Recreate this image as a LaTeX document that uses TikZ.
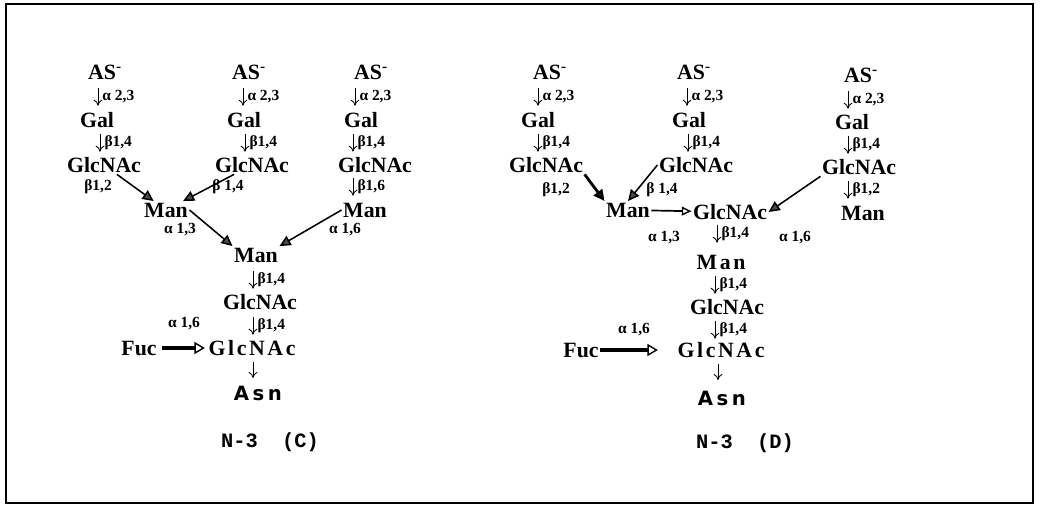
\documentclass[tikz,border=0pt]{standalone}
\usepackage{fontspec}
\setmainfont{Liberation Serif}
\newfontfamily\asnfont{DejaVu Sans}
\newfontfamily\ttlfont{Liberation Mono}
\usepackage{tikz}
\usetikzlibrary{arrows.meta,calc,positioning}
\tikzset{
  res/.style   = {font=\fontsize{15.5}{17}\selectfont\bfseries, inner sep=1pt},
  wres/.style  = {res, font=\fontsize{15.5}{17}\selectfont\bfseries\addfontfeatures{LetterSpace=12}},
  lbl/.style   = {font=\fontsize{11}{12}\selectfont\bfseries, inner sep=1pt},
  lnk/.style   = {lbl, anchor=west, inner xsep=3pt, inner ysep=0pt, minimum height=4.2mm},
  dn/.style    = {-{To[length=1.5mm,width=2.2mm]}, line width=0.6pt},
  bond/.style  = {line width=1.1pt, -{Triangle[length=2.8mm,width=2.6mm,fill=black!70]}},
  obond/.style = {line width=1.2pt, -{Triangle[open,length=2.4mm,width=2.2mm,line width=1pt]}},
  fbond/.style = {line width=2.4pt, -{Triangle[open,length=2.6mm,width=3mm,line width=1pt]}},
  asn/.style   = {font=\fontsize{14}{16}\selectfont\asnfont\bfseries\addfontfeatures{LetterSpace=18}},
  ttl/.style   = {font=\fontsize{14.5}{16}\selectfont\ttlfont\bfseries},
}
\begin{document}
\begin{tikzpicture}[x=0.25mm,y=-0.25mm]
  \useasboundingbox (0,0) rectangle (1040,511);
  \draw[line width=1.4pt] (6,4) rectangle (1033,503);
  % N-3 (C): antennae
  \node[res] (as1) at (105,72) {AS\textsuperscript{-}};
  \node[lnk] (c1a) at (98,97) {α 2,3};
  \node[res] (gal1) at (97,120) {Gal};
  \node[lnk] (c1b) at (100,143) {β1,4};
  \node[res] (glc1) at (104,165) {GlcNAc};
  \node[res] (as2) at (249,72) {AS\textsuperscript{-}};
  \node[lnk] (c2a) at (243,97) {α 2,3};
  \node[res] (gal2) at (244,120) {Gal};
  \node[lnk] (c2b) at (245,143) {β1,4};
  \node[res] (glc2) at (252,165) {GlcNAc};
  \node[res] (as3) at (371,72) {AS\textsuperscript{-}};
  \node[lnk] (c3a) at (355,97) {α 2,3};
  \node[res] (gal3) at (361,120) {Gal};
  \node[lnk] (c3b) at (353,143) {β1,4};
  \node[res] (glc3) at (375,165) {GlcNAc};
  \node[lnk] (c3c) at (353,187) {β1,6};
  \node[res] (man3) at (365,210) {Man};
  \foreach \l in {c1a,c1b,c2a,c2b,c3a,c3b,c3c}
    \draw[dn] (\l.north west) -- (\l.south west);
  \node[lbl] (b12c) at (98,187) {β1,2};
  \node[lbl] (b14c) at (228,187) {β 1,4};
  \node[res] (man1) at (166,210) {Man};
  \node[lbl] (a13c) at (180,230) {α 1,3};
  \node[lbl] (a16c) at (345,230) {α 1,6};
  % N-3 (C): core
  \node[res] (manC) at (256,255) {Man};
  \node[lnk] (c4) at (253,280) {β1,4};
  \node[res] (glcC1) at (260,302) {GlcNAc};
  \node[lnk] (c5) at (253,326) {β1,4};
  \node[lbl] (a16f) at (184,324) {α 1,6};
  \node[res] (fuc1) at (139,348) {Fuc};
  \node[wres] (glcC2) at (252,348) {GlcNAc};
  \coordinate (dC) at (253,362);
  \node[asn] (asnC) at (258,393) {Asn};
  \node[ttl] (ttlC) at (270,442) {N-3\ \ (C)};
  \draw[dn] (c4.north west) -- (c4.south west);
  \draw[dn] (c5.north west) -- (c5.south west);
  \draw[dn] (dC) -- ++(0,16);
  \draw[bond] (glc1) -- (man1);
  \draw[bond] (glc2) -- (man1);
  \draw[bond] (man1.east) -- (manC.north west);
  \draw[bond] (man3.west) -- (manC.north east);
  \draw[fbond, shorten <=1mm, shorten >=0.5mm] (fuc1) -- (glcC2);
  % N-3 (D): antennae
  \node[res] (as4) at (550,72) {AS\textsuperscript{-}};
  \node[lnk] (d1a) at (538,97) {α 2,3};
  \node[res] (gal4) at (538,120) {Gal};
  \node[lnk] (d1b) at (538,143) {β1,4};
  \node[res] (glc4) at (546,165) {GlcNAc};
  \node[res] (as5) at (694,72) {AS\textsuperscript{-}};
  \node[lnk] (d2a) at (687,97) {α 2,3};
  \node[res] (gal5) at (689,120) {Gal};
  \node[lnk] (d2b) at (688,143) {β1,4};
  \node[res] (glc5) at (696,165) {GlcNAc};
  \node[res] (as6) at (861,75) {AS\textsuperscript{-}};
  \node[lnk] (d3a) at (848,100) {α 2,3};
  \node[res] (gal6) at (852,122) {Gal};
  \node[lnk] (d3b) at (848,145) {β1,4};
  \node[res] (glc6) at (859,167) {GlcNAc};
  \node[lnk] (d3c) at (848,190) {β1,2};
  \node[res] (man6) at (863,213) {Man};
  \foreach \l in {d1a,d1b,d2a,d2b,d3a,d3b,d3c}
    \draw[dn] (\l.north west) -- (\l.south west);
  \node[lbl] (b12d) at (556,190) {β1,2};
  \node[lbl] (b14d) at (662,190) {β 1,4};
  \node[res] (manD1) at (628,210) {Man};
  \node[res] (glcD1) at (730,212) {GlcNAc};
  \node[lbl] (a13d) at (664,238) {α 1,3};
  \node[lnk] (d4) at (717,234) {β1,4};
  \node[lbl] (a16d) at (795,238) {α 1,6};
  % N-3 (D): core
  \node[wres] (manD2) at (721,262) {Man};
  \node[lnk] (d5) at (715,285) {β1,4};
  \node[res] (glcD2) at (727,307) {GlcNAc};
  \node[lnk] (d6) at (715,330) {β1,4};
  \node[lbl] (a16g) at (634,330) {α 1,6};
  \node[res] (fuc2) at (581,350) {Fuc};
  \node[wres] (glcD3) at (721,350) {GlcNAc};
  \coordinate (dD) at (718,364);
  \node[asn] (asnD) at (722,398) {Asn};
  \node[ttl] (ttlD) at (745,443) {N-3\ \ (D)};
  \foreach \l in {d4,d5,d6}
    \draw[dn] (\l.north west) -- (\l.south west);
  \draw[dn] (dD) -- ++(0,16);
  \draw[bond, line width=2pt] (glc4.south east) -- (manD1.north west);
  \draw[bond] (glc5.west) -- (manD1.north);
  \draw[obond] (manD1) -- (glcD1);
  \draw[bond] (glc6.south west) -- (glcD1.east);
  \draw[fbond, shorten >=4.5mm] (fuc2) -- (glcD3);
\end{tikzpicture}
\end{document}
